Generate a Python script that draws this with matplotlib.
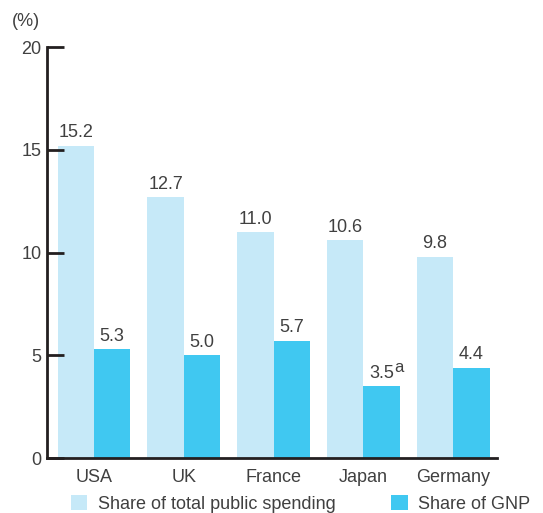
import matplotlib
matplotlib.use("Agg")
import matplotlib.pyplot as plt
import numpy as np

countries = ["USA", "UK", "France", "Japan", "Germany"]
public_spending = [15.2, 12.7, 11.0, 10.6, 9.8]
gnp_share = [5.3, 5.0, 5.7, 3.5, 4.4]
gnp_notes = ["", "", "", "a", ""]
series_names = ["Share of total public spending", "Share of GNP"]

light = "#c6e9f8"
dark = "#40c8f1"
ink = "#231f20"
txt = "#404040"

plt.rcParams["font.family"] = ["Liberation Sans", "DejaVu Sans"]
fs = 13

fig = plt.figure(figsize=(5.43, 5.13), dpi=100)
ax = fig.add_axes([0.0866, 0.107, 0.829, 0.801])

x = np.arange(len(countries))
w = 0.405
b1 = ax.bar(x - w / 2, public_spending, w, color=light, label=series_names[0])
b2 = ax.bar(x + w / 2, gnp_share, w, color=dark, label=series_names[1])

for xi, v in zip(x, public_spending):
    ax.text(xi - w / 2, v + 0.22, f"{v:.1f}", ha="center", va="bottom", fontsize=fs, color=txt)
for xi, v, note in zip(x, gnp_share, gnp_notes):
    ax.text(xi + w / 2, v + 0.22, f"{v:.1f}", ha="center", va="bottom", fontsize=fs, color=txt)
    if note:
        ax.annotate(note, xy=(xi + w / 2, v + 0.22), xytext=(9, 5), textcoords="offset points",
                    ha="left", va="bottom", fontsize=fs - 1, color=txt)

ax.set_xlim(-0.524, 4.49)
ax.set_ylim(0, 20)
ax.set_yticks([0, 5, 10, 15, 20])
ax.set_xticks(x)
ax.set_xticklabels(countries)
for s in ["top", "right"]:
    ax.spines[s].set_visible(False)
for s in ["left", "bottom"]:
    ax.spines[s].set_linewidth(2)
    ax.spines[s].set_color(ink)
ax.tick_params(axis="y", direction="in", length=12, width=2, color=ink, labelsize=fs,
               labelcolor=txt, pad=4)
ax.tick_params(axis="x", length=0, labelsize=fs, labelcolor=txt, pad=8)

fig.text(0.022, 0.958, "(%)", fontsize=fs, color=txt, va="center")

fig.legend(handles=[b1, b2], loc="center left", bbox_to_anchor=(0.1, 0.017), ncol=2,
           frameon=False, fontsize=fs, handlelength=0.9, handleheight=0.9,
           handletextpad=0.6, columnspacing=3.1, labelcolor=txt)

fig.savefig("out.png", dpi=100)
